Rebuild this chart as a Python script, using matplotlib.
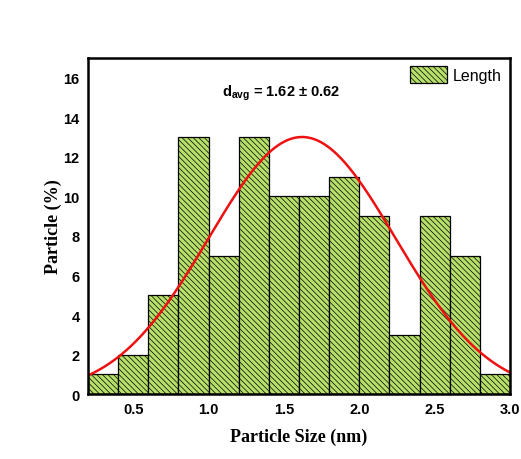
import numpy as np
import matplotlib
matplotlib.use('Agg')
import matplotlib.pyplot as plt

plt.rcParams['font.family'] = 'Liberation Sans'
plt.rcParams['mathtext.fontset'] = 'custom'
plt.rcParams['mathtext.rm'] = 'Liberation Sans:bold'
plt.rcParams['mathtext.it'] = 'Liberation Sans:bold'
plt.rcParams['hatch.color'] = '#4a6622'
plt.rcParams['hatch.linewidth'] = 0.5

# histogram data
bin_left = [0.2, 0.4, 0.6, 0.8, 1.0, 1.2, 1.4, 1.6, 1.8, 2.0, 2.2, 2.4, 2.6, 2.8]
counts = [1, 2, 5, 13, 7, 13, 10, 10, 11, 9, 3, 9, 7, 1]
bin_w = 0.2

# gaussian fit
d_avg = 1.62
d_std = 0.62
peak = 13

x = np.linspace(0.2, 3.0, 300)
fit = peak*np.exp(-(x-d_avg)**2/(2*d_std**2))

fig = plt.figure(figsize=(5.21, 4.60), dpi=100)
ax = fig.add_axes([0.169, 0.141, 0.810, 0.731])

ax.bar(bin_left, counts, width=bin_w, align='edge', color='#b6e06a',
       edgecolor='black', linewidth=0.9, hatch='\\'*6, label='Length')
ax.plot(x, fit, color='#ee1111', lw=1.8)

ax.set_xlim(0.2, 3.0)
ax.set_ylim(0, 17)
ax.set_xticks([0.5, 1.0, 1.5, 2.0, 2.5, 3.0])
ax.set_xticklabels(['0.5', '1.0', '1.5', '2.0', '2.5', '3.0'])
ax.set_yticks(range(0, 17, 2))
ax.tick_params(length=0, labelsize=10.5, pad=6)
for lab in ax.get_xticklabels() + ax.get_yticklabels():
    lab.set_fontweight('bold')
for s in ax.spines.values():
    s.set_linewidth(1.8)

ax.set_xlabel('Particle Size (nm)', fontfamily='Liberation Serif',
              fontweight='bold', fontsize=13, labelpad=8)
ax.set_ylabel('Particle (%)', fontfamily='Liberation Serif',
              fontweight='bold', fontsize=13, labelpad=1)

ax.text(1.09, 15.08, r'd$_{\rm avg}$ = 1.62 ± 0.62', fontsize=10.5,
        fontweight='bold')

ax.legend(loc='upper right', frameon=False, fontsize=11.5,
          handlelength=2.3, handleheight=1.3, borderaxespad=0.1,
          handletextpad=0.4)

fig.savefig('out.png', dpi=100)
